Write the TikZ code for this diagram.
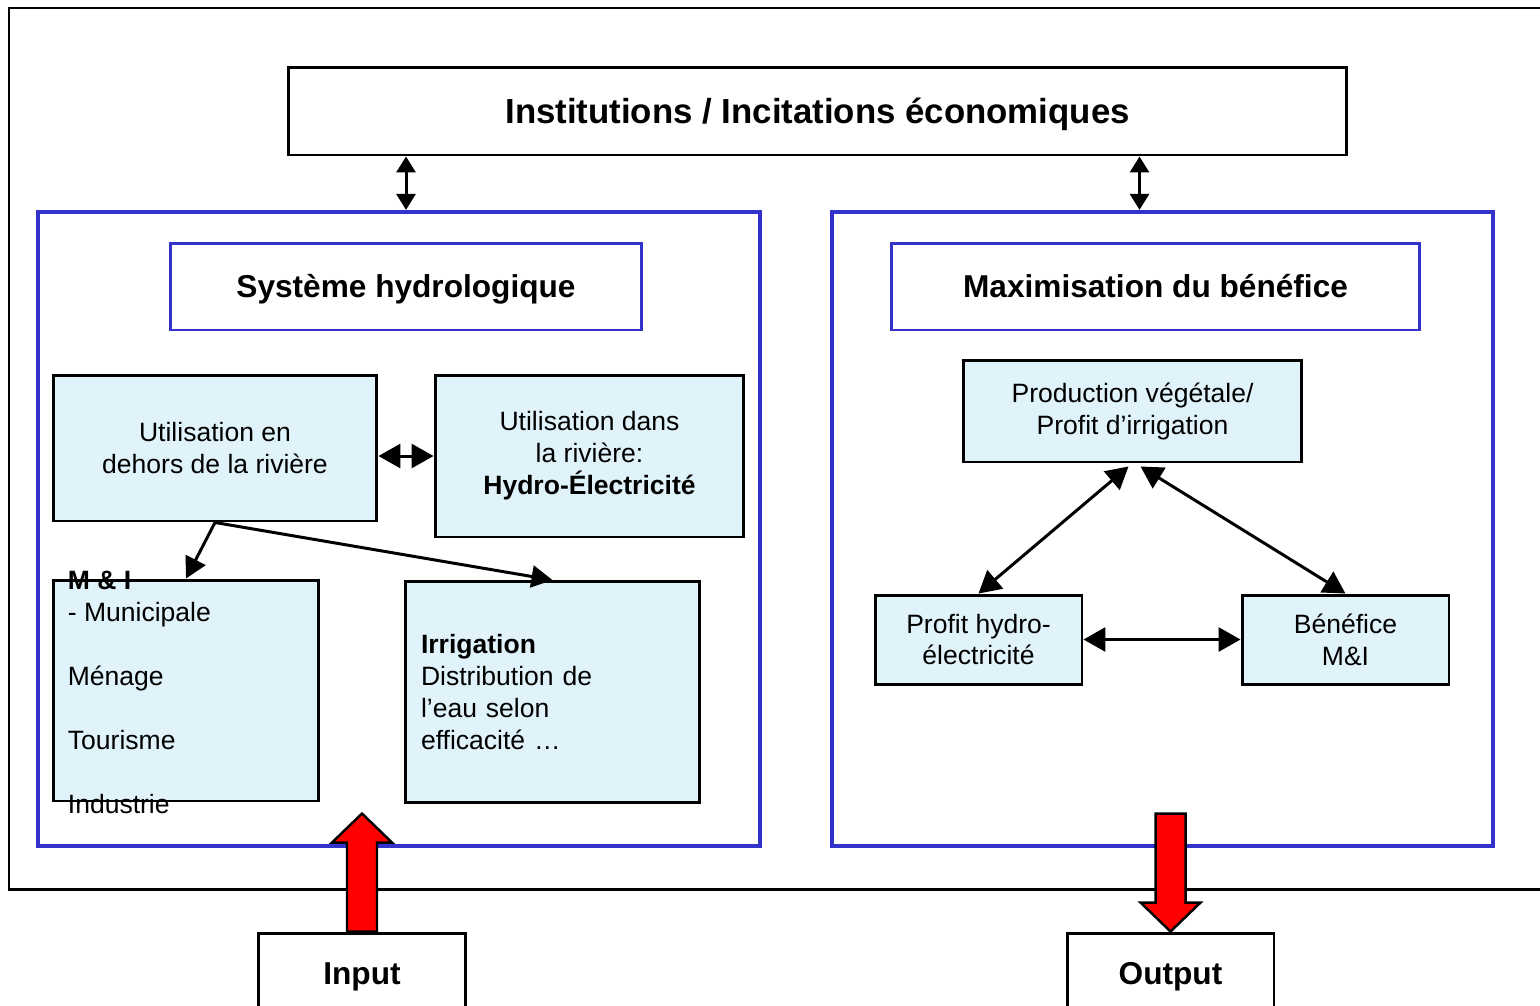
\documentclass[tikz,border=0pt]{standalone}
\usepackage{fontspec}
\setmainfont{Liberation Sans}
\usepackage{xcolor}
\usepackage{tikz}
\usetikzlibrary{arrows.meta, positioning, calc}
\definecolor{frameblue}{RGB}{51,51,204}
\definecolor{boxblue}{RGB}{224,243,250}

\begin{document}
\begin{tikzpicture}[x=0.02cm, y=-0.02cm,
  titlebox/.style={rectangle, draw, line width=1.7pt, fill=white, font=\fontsize{18}{21.6}\selectfont\bfseries, align=center, inner sep=0pt},
  bluebox/.style={titlebox, draw=frameblue, text height=13pt, text depth=0pt},
  bigframe/.style={rectangle, draw=frameblue, line width=2.5pt, inner sep=0pt},
  usebox/.style={rectangle, draw, fill=boxblue, line width=1.7pt, font=\fontsize{15.1}{18.2}\selectfont, align=center, inner sep=0pt},
  flow/.style={line width=1.7pt, {Triangle[length=0.44cm,width=0.48cm]}-{Triangle[length=0.44cm,width=0.48cm]}},
  flowone/.style={line width=1.7pt, -{Triangle[length=0.42cm,width=0.44cm]}},
  flowsmall/.style={line width=1.7pt, {Triangle[length=0.32cm,width=0.38cm]}-{Triangle[length=0.32cm,width=0.38cm]}},
  redarrow/.style={draw, fill=red, line width=1.4pt, line join=miter}]
\useasboundingbox (0,0) rectangle (1540,1005);
\fill[white] (0,0) rectangle (1540,1005);

% outer frame
\draw[line width=1.7pt] (9,8) rectangle (1580,889);

\node[titlebox, font=\fontsize{19.8}{23.8}\selectfont\bfseries, text height=14.3pt, text depth=0pt, minimum width=21.18cm, minimum height=1.76cm] (top) at (817.5,111) {Institutions / Incitations économiques};

% the two systems
\node[bigframe, minimum width=14.44cm, minimum height=12.68cm] (leftfr) at (399,529) {};
\node[bigframe, minimum width=13.22cm, minimum height=12.68cm] (rightfr) at (1162.5,529) {};

\node[bluebox, minimum width=9.44cm, minimum height=1.74cm] (sys) at (406,286.5) {Système hydrologique};
\node[bluebox, minimum width=10.58cm, minimum height=1.74cm] (maxb) at (1155.5,286.5) {Maximisation du bénéfice};

% hydrological side
\node[usebox, minimum width=6.48cm, minimum height=2.92cm] (util1) at (215,448) {Utilisation en\\dehors de la rivière};
\node[usebox, minimum width=6.18cm, minimum height=3.24cm] (util2) at (589.5,456) {Utilisation dans\\la rivière:\\\textbf{Hydro-Électricité}};
\node[usebox, minimum width=5.32cm, minimum height=4.42cm] (mi) at (186,690.5) {};
\node[font=\fontsize{15.1}{18.2}\selectfont, align=left, inner sep=0pt, anchor=north west] (mitext) at ($(mi.north west)+(16,-8)$) {\textbf{M \& I}\\- Municipale\\[18.2pt]Ménage\\[18.2pt]Tourisme\\[18.2pt]Industrie};
\node[usebox, align=left, text width=5.26cm, inner xsep=0.32cm, minimum height=4.42cm] (irr) at (552.5,692) {\textbf{Irrigation}\\Distribution de\\l’eau selon\\efficacité …};

% benefit side
\node[usebox, minimum width=6.78cm, minimum height=2.04cm] (prod) at (1132.5,411) {Production végétale/\\Profit d’irrigation};
\node[usebox, minimum width=4.14cm, minimum height=1.78cm] (ph) at (978.5,639.5) {Profit hydro-\\électricité};
\node[usebox, minimum width=4.14cm, minimum height=1.78cm] (ben) at (1345.5,639.5) {Bénéfice\\M\&I};

% input / output
\node[titlebox, minimum width=4.16cm, minimum height=1.74cm] (input) at (362,976.5) {Input};
\node[titlebox, minimum width=4.14cm, minimum height=1.74cm] (output) at (1170.5,976.5) {Output};

\draw[flowsmall] (sys.north |- top.south) -- (sys.north |- leftfr.north);
\draw[flowsmall] ($(maxb.north |- top.south)+(-16,0)$) -- ($(maxb.north |- rightfr.north)+(-16,0)$);
\draw[flow] (util1.east |- util2.west) -- (util2.west);
\draw[flowone] (util1.south) -- (mi.north);
\draw[flowone] (util1.south) -- (irr.north);
\draw[flow] ($(prod.south)+(-4,3)$) -- (ph.north);
\draw[flow] ($(prod.south)+(8,3)$) -- (ben.north);
\draw[flow] (ph.east) -- (ben.west);

\draw[redarrow] ($(input.north)+(-15,0)$) -- ++(0,-89) -- ++(-15,0) -- ($(input.north)+(0,-118)$) -- ($(input.north)+(30,-89)$) -- ++(-15,0) -- ($(input.north)+(15,0)$) -- cycle;
\draw[redarrow] (output.north) -- ++(-30,-29) -- ++(15,0) -- ++(0,-89) -- ++(30,0) -- ++(0,89) -- ++(15,0) -- cycle;
\end{tikzpicture}
\end{document}
